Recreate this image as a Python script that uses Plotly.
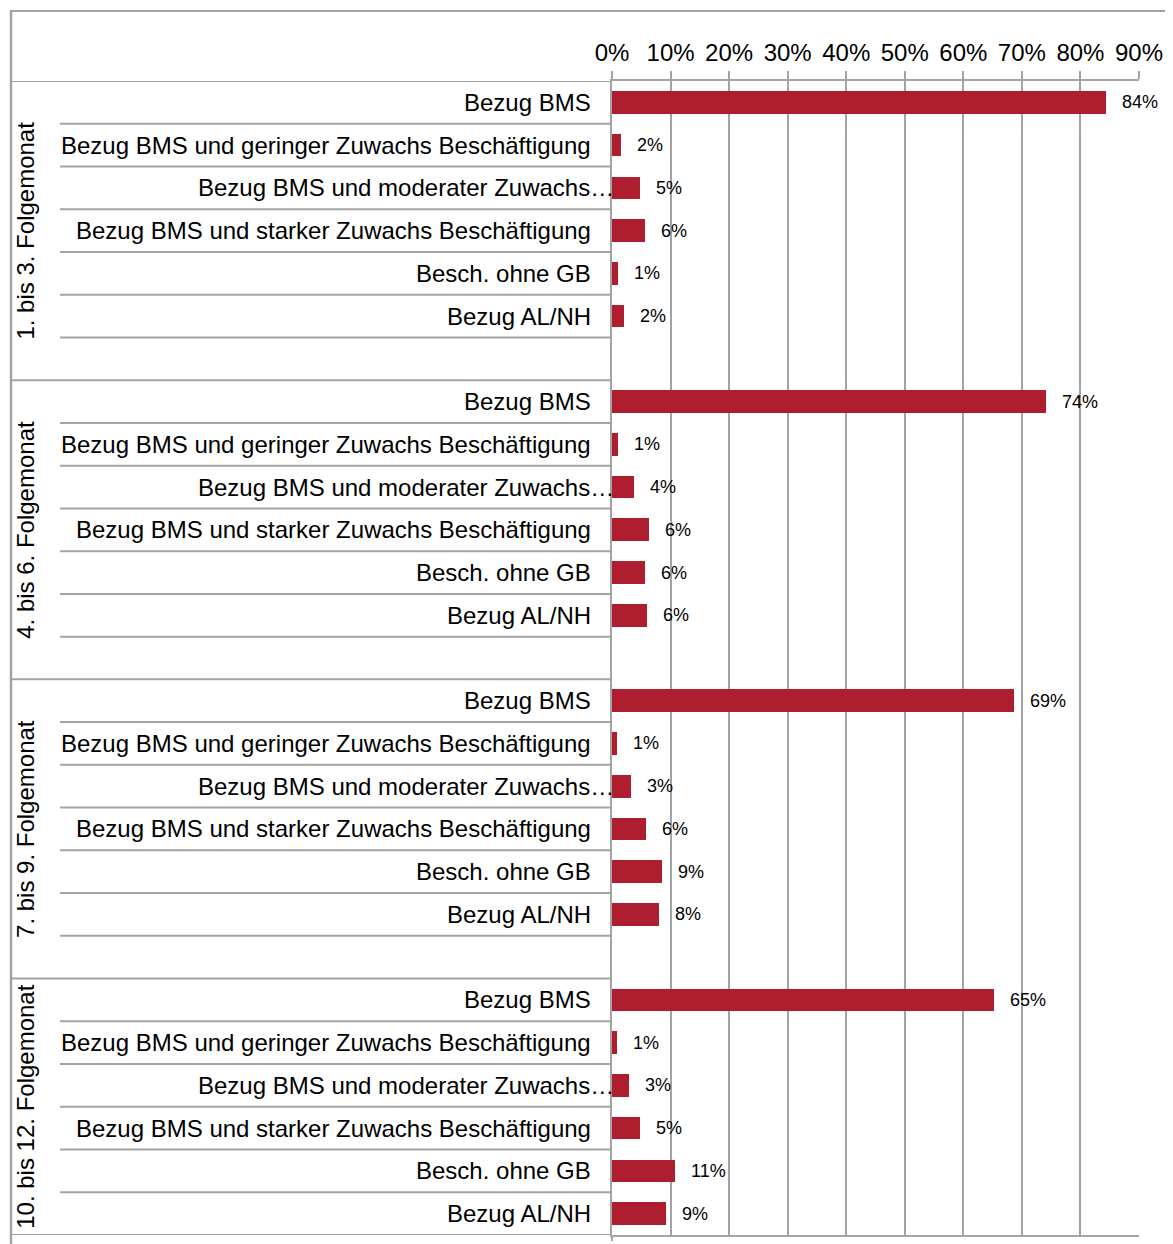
import plotly.graph_objects as go

# page body has an 8px margin: draw the figure 8px smaller and shift coordinates
OFF = 8
W, H = 1173 - OFF, 1244 - OFF

groups = ["1. bis 3. Folgemonat", "4. bis 6. Folgemonat",
          "7. bis 9. Folgemonat", "10. bis 12. Folgemonat"]
categories = ["Bezug BMS",
              "Bezug BMS und geringer Zuwachs Beschäftigung",
              "Bezug BMS und moderater Zuwachs…",
              "Bezug BMS und starker Zuwachs Beschäftigung",
              "Besch. ohne GB",
              "Bezug AL/NH"]
values_g1 = [84.3, 1.6, 4.8, 5.6, 1.0, 2.1]
values_g2 = [74.1, 1.0, 3.8, 6.3, 5.7, 6.0]
values_g3 = [68.7, 0.9, 3.2, 5.8, 8.6, 8.0]
values_g4 = [65.2, 0.9, 2.9, 4.7, 10.7, 9.3]
group_values = [values_g1, values_g2, values_g3, values_g4]
tick_vals = [0, 10, 20, 30, 40, 50, 60, 70, 80, 90]
tick_text = ["0%", "10%", "20%", "30%", "40%", "50%", "60%", "70%", "80%", "90%"]

BAR = "#AF1E2E"
LINE = "#A3A3A3"
FONT = "Liberation Sans, Arial, Helvetica, sans-serif"

ROWS_PER_GROUP = 7
n_rows = ROWS_PER_GROUP * (len(groups) - 1) + len(categories)

ys, xs = [], []
for g, vals in enumerate(group_values):
    for j, v in enumerate(vals):
        ys.append(g * ROWS_PER_GROUP + j)
        xs.append(v)

fig = go.Figure(go.Bar(
    x=xs, y=ys, orientation="h", width=0.53,
    marker=dict(color=BAR, line=dict(width=0)),
    hoverinfo="skip",
))


def px_x(p):
    return (p - OFF) / W


def px_y(p):
    return 1 - (p - OFF) / H


ann = []
shapes = []
LBL_RIGHT = px_x(593)
for g, vals in enumerate(group_values):
    base = g * ROWS_PER_GROUP
    n_in = ROWS_PER_GROUP if g < len(groups) - 1 else len(categories)
    ann.append(dict(xref="paper", yref="y", x=px_x(26), y=base + (n_in - 1) / 2,
                    text=groups[g], textangle=-90, showarrow=False,
                    font=dict(size=24, color="#000", family=FONT),
                    xanchor="center", yanchor="middle"))
    for j, (cat, v) in enumerate(zip(categories, vals)):
        truncated = cat.endswith("…")
        ann.append(dict(xref="paper", yref="y",
                        x=px_x(616) if truncated else LBL_RIGHT, y=base + j,
                        text=cat, showarrow=False, xanchor="right", yanchor="middle",
                        font=dict(size=24, color="#000", family=FONT)))
        ann.append(dict(xref="x", yref="y", x=v, y=base + j, text=f"{round(v)}%",
                        showarrow=False, xanchor="left", yanchor="middle", xshift=14,
                        font=dict(size=18, color="#000", family=FONT)))
    for j in range(1, len(categories) + 1):
        yb = base + j - 0.5
        if yb >= n_rows - 0.5:
            continue
        shapes.append(dict(type="line", xref="paper", yref="y", x0=px_x(60), x1=px_x(612),
                           y0=yb, y1=yb, line=dict(color=LINE, width=2)))
    yb = base - 0.5
    shapes.append(dict(type="line", xref="paper", yref="y", x0=px_x(10), x1=px_x(612),
                       y0=yb, y1=yb, line=dict(color=LINE, width=2)))

shapes.append(dict(type="line", xref="paper", yref="y", x0=px_x(10), x1=px_x(612),
                   y0=n_rows - 0.5, y1=n_rows - 0.5, line=dict(color=LINE, width=2)))
shapes.append(dict(type="line", xref="paper", yref="paper", x0=px_x(10), x1=1.0,
                   y0=px_y(11), y1=px_y(11), line=dict(color=LINE, width=2)))
shapes.append(dict(type="line", xref="paper", yref="paper", x0=px_x(11), x1=px_x(11),
                   y0=px_y(10), y1=0, line=dict(color=LINE, width=2.5)))
shapes.append(dict(type="line", xref="paper", yref="paper", x0=px_x(612), x1=px_x(612),
                   y0=px_y(1235), y1=px_y(1241), line=dict(color=LINE, width=2)))

fig.update_layout(
    width=W, height=H,
    margin=dict(l=0, r=0, t=0, b=0, autoexpand=False),
    paper_bgcolor="white", plot_bgcolor="white",
    showlegend=False,
    bargap=0,
    annotations=ann, shapes=shapes,
    font=dict(family=FONT, color="#000"),
    xaxis=dict(domain=[px_x(612), px_x(1139)], range=[0, 90], side="top",
               tickvals=tick_vals, ticktext=tick_text,
               tickfont=dict(size=24, color="#000", family=FONT),
               showgrid=True, gridcolor=LINE, gridwidth=2,
               showline=True, linecolor=LINE, linewidth=2, mirror=True,
               ticks="outside", ticklen=8, tickcolor=LINE, tickwidth=2,
               zeroline=False, fixedrange=True, automargin=False),
    yaxis=dict(domain=[px_y(1235), px_y(81)], range=[n_rows - 0.5, -0.5],
               showticklabels=False, ticks="", showgrid=False, zeroline=False,
               showline=True, linecolor=LINE, linewidth=2, fixedrange=True,
               automargin=False),
)

fig.write_html("out.html")
